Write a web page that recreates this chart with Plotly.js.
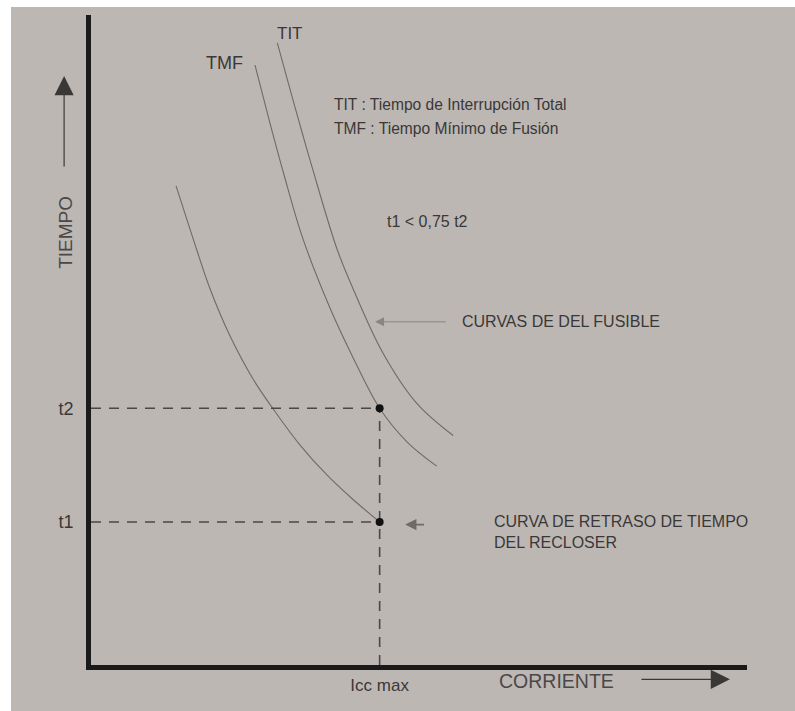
<!DOCTYPE html>
<html>
<head>
<meta charset="utf-8">
<script src="https://cdn.plot.ly/plotly-3.0.1.min.js"></script>
<style>
  html, body { margin: 0; padding: 0; background: #ffffff; }
  #chart { position: absolute; left: 11px; top: 7px; width: 784px; height: 704px; }
</style>
</head>
<body>
<div id="chart"></div>
<script>
// ---- Data (schematic units, 0-100 on both axes) ----
var reclX = [12.96, 15.5, 18.1, 21.2, 24.7, 28.4, 31.9, 36.0, 39.9, 44.0];
var reclY = [73.7, 65.8, 58.0, 50.6, 44.0, 38.5, 33.8, 29.2, 25.5, 22.0];

var tmfX = [25.0, 27.3, 29.4, 32.3, 36.4, 39.9, 44.0, 48.2, 52.7];
var tmfY = [92.3, 83.3, 75.5, 65.6, 55.0, 47.4, 39.5, 34.3, 30.6];

var titX = [28.4, 30.3, 32.3, 33.8, 37.5, 39.9, 44.5, 49.7, 55.2];
var titY = [95.7, 88.7, 81.5, 76.25, 64.0, 58.0, 48.0, 40.2, 35.3];

var iccMax = 44.0;
var t2 = 39.5;
var t1 = 22.0;

var yTickVals = [t1, t2];
var yTickText = ['t1', 't2'];
var xTickVals = [iccMax];
var xTickText = ['Icc max'];

// ---- Styles ----
var curveColor = '#6e6a68';
var dashColor = '#4a4846';
var textColor = '#3a3837';
var FONT = 'Liberation Sans, Arial, sans-serif';

var traces = [
  {x: reclX, y: reclY, mode: 'lines', line: {color: curveColor, width: 1.1, shape: 'spline', smoothing: 1}, hoverinfo: 'skip'},
  {x: tmfX, y: tmfY, mode: 'lines', line: {color: curveColor, width: 1.1, shape: 'spline', smoothing: 1}, hoverinfo: 'skip'},
  {x: titX, y: titY, mode: 'lines', line: {color: curveColor, width: 1.1, shape: 'spline', smoothing: 1}, hoverinfo: 'skip'},
  // dashed guides
  {x: [0, iccMax], y: [t2, t2], mode: 'lines', line: {color: dashColor, width: 1.6, dash: '10px,8px'}, hoverinfo: 'skip'},
  {x: [0, iccMax], y: [t1, t1], mode: 'lines', line: {color: dashColor, width: 1.6, dash: '10px,8px'}, hoverinfo: 'skip'},
  {x: [iccMax, iccMax], y: [0, t2], mode: 'lines', line: {color: dashColor, width: 1.6, dash: '10px,8px'}, hoverinfo: 'skip'},
  // points
  {x: [iccMax, iccMax], y: [t2, t1], mode: 'markers', marker: {color: '#111111', size: 8}, hoverinfo: 'skip'}
];

function txt(x, y, text, size, extra) {
  var a = {x: x, y: y, xref: 'x', yref: 'y', text: text, showarrow: false,
           font: {family: FONT, size: size, color: textColor}, xanchor: 'left', yanchor: 'middle'};
  for (var k in extra) a[k] = extra[k];
  return a;
}
function arrow(xTip, yTip, xTail, yTail, color, width, size) {
  return {x: xTip, y: yTip, ax: xTail, ay: yTail, xref: 'x', yref: 'y', axref: 'x', ayref: 'y',
          text: '', showarrow: true, arrowhead: 2, arrowsize: size, arrowwidth: width, arrowcolor: color};
}
function paperArrow(xTip, yTip, axPx, ayPx, color, width, size) {
  return {x: xTip, y: yTip, xref: 'paper', yref: 'paper', ax: axPx, ay: ayPx,
          text: '', showarrow: true, arrowhead: 2, arrowsize: size, arrowwidth: width, arrowcolor: color};
}

var annotations = [
  txt(30.3, 97.2, 'TIT', 17, {xanchor: 'center'}),
  txt(20.3, 92.6, 'TMF', 18, {xanchor: 'center'}),
  txt(36.7, 86.2, 'TIT : Tiempo de Interrupción Total', 15.6),
  txt(36.7, 82.6, 'TMF : Tiempo Mínimo de Fusión', 15.6),
  txt(44.8, 68.2, 't1 < 0,75 t2', 16),
  txt(56.25, 52.8, 'CURVAS DE DEL FUSIBLE', 16),
  txt(61.1, 20.4, 'CURVA DE RETRASO DE TIEMPO<br>DEL RECLOSER', 16, {align: 'left'}),
  {x: 0.709, y: -0.025, xref: 'paper', yref: 'paper', text: 'CORRIENTE', showarrow: false,
   font: {family: FONT, size: 19.5, color: '#4a4847'}, xanchor: 'center', yanchor: 'middle'},
  {x: -0.038, y: 0.665, xref: 'paper', yref: 'paper', text: 'TIEMPO', showarrow: false, textangle: -90,
   font: {family: FONT, size: 19, color: '#4a4847'}, xanchor: 'center', yanchor: 'middle'},
  arrow(43.3, 52.8, 54.3, 52.8, '#8a8583', 1, 1.8),
  arrow(47.9, 21.6, 51.0, 21.6, '#6e6a68', 1.6, 1.4),
  paperArrow(-0.041, 0.906, 0, 92, '#3a3837', 1.2, 3.2),
  paperArrow(0.974, -0.022, -90, 0, '#3a3837', 1.2, 3.2)
];

var layout = {
  width: 784, height: 704,
  margin: {l: 80, r: 48, t: 8, b: 46},
  paper_bgcolor: '#bdb7b4',
  plot_bgcolor: '#bdb7b4',
  showlegend: false,
  xaxis: {
    range: [0, 100], showgrid: false, zeroline: false,
    showline: true, linecolor: '#1a1a1a', linewidth: 5,
    tickvals: xTickVals, ticktext: xTickText,
    ticks: 'outside', ticklen: 1, tickcolor: 'rgba(0,0,0,0)',
    tickfont: {family: FONT, size: 17, color: textColor}
  },
  yaxis: {
    range: [0, 100], showgrid: false, zeroline: false,
    showline: true, linecolor: '#1a1a1a', linewidth: 5,
    tickvals: yTickVals, ticktext: yTickText,
    ticks: 'outside', ticklen: 9, tickcolor: 'rgba(0,0,0,0)',
    tickfont: {family: FONT, size: 18, color: textColor}
  },
  annotations: annotations
};

Plotly.newPlot('chart', traces, layout, {displayModeBar: false, staticPlot: true});
</script>
</body>
</html>
